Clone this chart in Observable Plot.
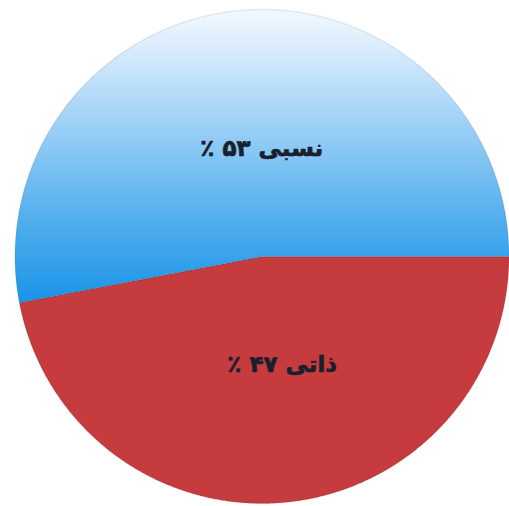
<!DOCTYPE html>
<html>
<head>
<meta charset="utf-8">
<script src="https://cdn.jsdelivr.net/npm/d3@7"></script>
<script src="https://cdn.jsdelivr.net/npm/@observablehq/plot@0.6"></script>
<style>
  html, body { margin: 0; padding: 0; background: #ffffff; }
  #chart svg { display: block; }
</style>
</head>
<body>
<div id="chart"></div>
<script>
// Data
const labels = ["ذاتی", "نسبی"];
const values = [47, 53];
const valueText = ["۴۷", "۵۳"];
const percentSign = "٪";
const sliceColors = ["#c63c3e", "url(#blueGrad)"];

// Pie layout (d3 convention: angle 0 at 12 o'clock, clockwise)
const arcs = d3.pie().sort(null)
  .startAngle(Math.PI / 2)
  .endAngle(Math.PI / 2 + 2 * Math.PI)(values);

const slicePoints = [];
arcs.forEach((a, i) => {
  const steps = Math.ceil((a.endAngle - a.startAngle) / 0.005);
  slicePoints.push({slice: labels[i], x: 0, y: 0});
  for (let k = 0; k <= steps; k++) {
    const t = a.startAngle + (a.endAngle - a.startAngle) * k / steps;
    slicePoints.push({slice: labels[i], x: Math.sin(t), y: Math.cos(t)});
  }
  slicePoints.push({slice: labels[i], x: 0, y: 0});
});

const labelData = arcs.map((a, i) => {
  const mid = (a.startAngle + a.endAngle) / 2;
  const k = 0.44;
  return {
    x: Math.sin(mid) * k,
    y: Math.cos(mid) * k,
    text: "\u202B" + labels[i] + " " + valueText[i] + " " + percentSign + "\u202C"
  };
});

// Gradient defs for the blue slice
function defs() {
  const ns = "http://www.w3.org/2000/svg";
  const d = document.createElementNS(ns, "defs");
  const g = document.createElementNS(ns, "linearGradient");
  g.setAttribute("id", "blueGrad");
  g.setAttribute("x1", "0"); g.setAttribute("y1", "0");
  g.setAttribute("x2", "0"); g.setAttribute("y2", "1");
  [["0", "#f3f9fe"], ["0.12", "#dcedfc"], ["0.4", "#9bd0f6"], ["0.7", "#55b0ee"], ["0.85", "#37a2eb"], ["1", "#1b93e6"]]
    .forEach(([o, c]) => {
      const s = document.createElementNS(ns, "stop");
      s.setAttribute("offset", o);
      s.setAttribute("stop-color", c);
      g.appendChild(s);
    });
  d.appendChild(g);
  return d;
}

const cx = 261.5, cy = 256, r = 247, W = 509, H = 506;

const chart = Plot.plot({
  width: W,
  height: H,
  margin: 0,
  x: {domain: [-cx / r, (W - cx) / r], axis: null},
  y: {domain: [(cy - H) / r, cy / r], axis: null},
  color: {domain: labels, range: sliceColors},
  marks: [
    defs,
    Plot.line(slicePoints, {
      x: "x", y: "y", z: "slice", fill: "slice",
      stroke: "#000", strokeOpacity: 0.08, strokeWidth: 1.5
    }),
    Plot.text(labelData, {
      x: "x", y: "y", text: "text", dx: 10,
      fontSize: 23, fontWeight: "bold",
      fontFamily: "DejaVu Sans",
      fill: "#1a1f2e",
      stroke: "#1a1f2e", strokeWidth: 0.7
    })
  ]
});

document.getElementById("chart").appendChild(chart);
</script>
</body>
</html>
